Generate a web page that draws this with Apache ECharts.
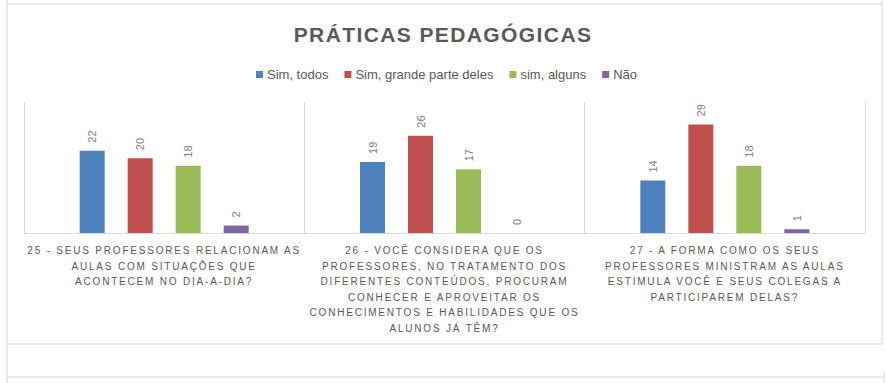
<!DOCTYPE html>
<html>
<head>
<meta charset="utf-8">
<script src="https://cdn.jsdelivr.net/npm/echarts@6/dist/echarts.min.js"></script>
<style>
  html, body { margin: 0; padding: 0; background: #ffffff; }
  #chart { width: 886px; height: 383px; }
  /* spaced capitals for the title and the question labels */
  #chart text[style*="21px"] { letter-spacing: 1.4px; }
  #chart text[style*="10px"] { letter-spacing: 1.8px; }
</style>
</head>
<body>
<div id="chart"></div>
<script>
// Questions (x axis categories)
const categories = [
  '25 - SEUS PROFESSORES RELACIONAM AS\nAULAS COM SITUAÇÕES QUE\nACONTECEM NO DIA-A-DIA?',
  '26 - VOCÊ CONSIDERA QUE OS\nPROFESSORES, NO TRATAMENTO DOS\nDIFERENTES CONTEÚDOS, PROCURAM\nCONHECER E APROVEITAR OS\nCONHECIMENTOS E HABILIDADES QUE OS\nALUNOS JÁ TÊM?',
  '27 - A FORMA COMO OS SEUS\nPROFESSORES MINISTRAM AS AULAS\nESTIMULA VOCÊ E SEUS COLEGAS A\nPARTICIPAREM DELAS?'
];

// Answer series
const seriesNames = ['Sim, todos', 'Sim, grande parte deles', 'sim, alguns', 'Não'];
const simTodos = [22, 19, 14];
const simGrandeParte = [20, 26, 29];
const simAlguns = [18, 17, 18];
const nao = [2, 0, 1];

const seriesData = [simTodos, simGrandeParte, simAlguns, nao];
const colors = ['#4f81bd', '#c0504d', '#9bbb59', '#8064a2'];

const chart = echarts.init(document.getElementById('chart'), null, { renderer: 'svg' });

const frameColor = '#e3e3e3';
function frameLine(x1, y1, x2, y2) {
  return {
    type: 'line',
    silent: true,
    shape: { x1: x1, y1: y1, x2: x2, y2: y2 },
    style: { stroke: frameColor, lineWidth: 1.5 }
  };
}

chart.setOption({
  backgroundColor: '#ffffff',
  textStyle: { fontFamily: 'Liberation Sans' },
  title: {
    text: 'PRÁTICAS PEDAGÓGICAS',
    left: 438,
    top: 19,
    textAlign: 'center',
    textStyle: { fontSize: 21, fontWeight: 'bold', color: '#595959', fontFamily: 'Liberation Sans' }
  },
  legend: {
    top: 63,
    left: 251,
    icon: 'rect',
    itemWidth: 7,
    itemHeight: 7,
    itemGap: 16,
    textStyle: { fontSize: 13, color: '#595959', padding: [0, 0, 0, -1] },
    data: seriesNames
  },
  graphic: [
    frameLine(7, 0, 7, 383),
    frameLine(7, 4, 882, 4),
    frameLine(882, 0, 882, 344),
    frameLine(7, 344, 882, 344),
    frameLine(7, 377, 884, 377),
    frameLine(884, 372, 884, 383)
  ],
  grid: { left: 24, right: 21, top: 102, bottom: 150, containLabel: false },
  xAxis: {
    type: 'category',
    data: categories,
    axisLine: { lineStyle: { color: '#d9d9d9', width: 1 } },
    axisTick: { show: false },
    splitLine: { show: true, interval: 0, lineStyle: { color: '#d9d9d9', width: 1 } },
    axisLabel: {
      interval: 0,
      margin: 10,
      fontSize: 10,
      lineHeight: 15.5,
      color: '#595959',
      fontFamily: 'Liberation Sans'
    }
  },
  yAxis: {
    type: 'value',
    min: 0,
    max: 35,
    show: false,
    splitLine: { show: false }
  },
  series: seriesNames.map(function (name, i) {
    return {
      name: name,
      type: 'bar',
      data: seriesData[i],
      barWidth: 25,
      barGap: '92%',
      itemStyle: { color: colors[i] },
      label: {
        show: true,
        position: 'top',
        rotate: 90,
        align: 'left',
        verticalAlign: 'middle',
        distance: 8,
        fontSize: 11,
        color: '#7f7f7f'
      }
    };
  })
});
</script>
</body>
</html>
